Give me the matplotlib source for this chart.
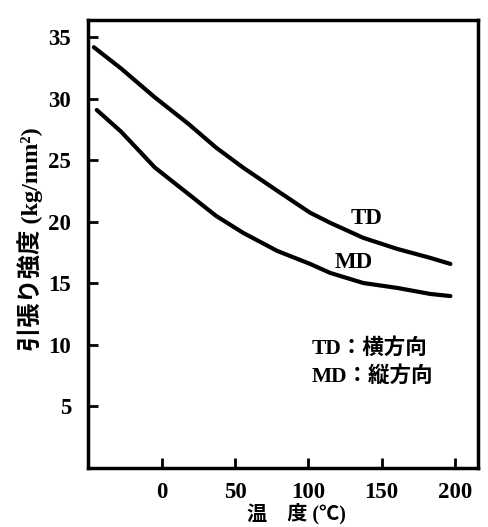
import numpy as np
import matplotlib
matplotlib.use("Agg")
import matplotlib.pyplot as plt

plt.rcParams['font.family'] = ['Liberation Serif', 'Noto Sans CJK JP']
plt.rcParams['font.weight'] = 'bold'

# values (temperature in C, strength in kg/mm2)
td_temp = [-46.5, -28.0, -4.8, 17.8, 36.9, 55.4, 78.7, 101.2, 114.9, 137.5, 160.7, 183.3, 197.0]
td_strength = [34.19, 32.47, 30.11, 27.99, 26.04, 24.41, 22.53, 20.74, 19.92, 18.70, 17.80, 17.07, 16.58]
md_temp = [-44.5, -28.0, -4.8, 17.8, 36.9, 55.4, 78.7, 101.2, 114.9, 137.5, 160.7, 183.3, 197.0]
md_strength = [29.09, 27.34, 24.41, 22.29, 20.49, 19.11, 17.64, 16.58, 15.85, 15.03, 14.63, 14.14, 13.97]

x_ticks = [0, 50, 100, 150, 200]
y_ticks = [5, 10, 15, 20, 25, 30, 35]

fig = plt.figure(figsize=(4.88, 5.27), dpi=100)
ax = fig.add_axes([0.18, 0.112, 0.80, 0.85])

ax.plot(td_temp, td_strength, color='black', lw=3, solid_capstyle='round', solid_joinstyle='round')
ax.plot(md_temp, md_strength, color='black', lw=3, solid_capstyle='round', solid_joinstyle='round')

ax.text(140, 20.3, 'TD', fontsize=16.5, ha='center', va='center')
ax.text(131, 16.7, 'MD', fontsize=16.5, ha='center', va='center')
ax.text(102, 9.75, 'TD：横方向', fontsize=15.5, ha='left', va='center')
ax.text(102, 7.45, 'MD：縦方向', fontsize=15.5, ha='left', va='center')

ax.set_xlim(-50.6, 216)
ax.set_ylim(0, 36.4)
ax.set_xticks(x_ticks)
ax.set_yticks(y_ticks)
ax.tick_params(direction='in', length=7, width=2, labelsize=16.5)
ax.tick_params(axis='x', pad=10)
ax.tick_params(axis='y', pad=12)
for lab in ax.get_xticklabels() + ax.get_yticklabels():
    lab.set_fontweight('bold')
for s in ax.spines.values():
    s.set_linewidth(2.5)

ax.set_xlabel('温　度 (℃)', fontsize=14.5, fontweight='bold', labelpad=0)
ax.xaxis.label.set_x(0.535)
ax.set_ylabel('引張り強度 (kg/mm²)', fontsize=17.5, fontweight='bold', labelpad=4)
ax.yaxis.label.set_y(0.51)

fig.savefig('out.png', dpi=100)
